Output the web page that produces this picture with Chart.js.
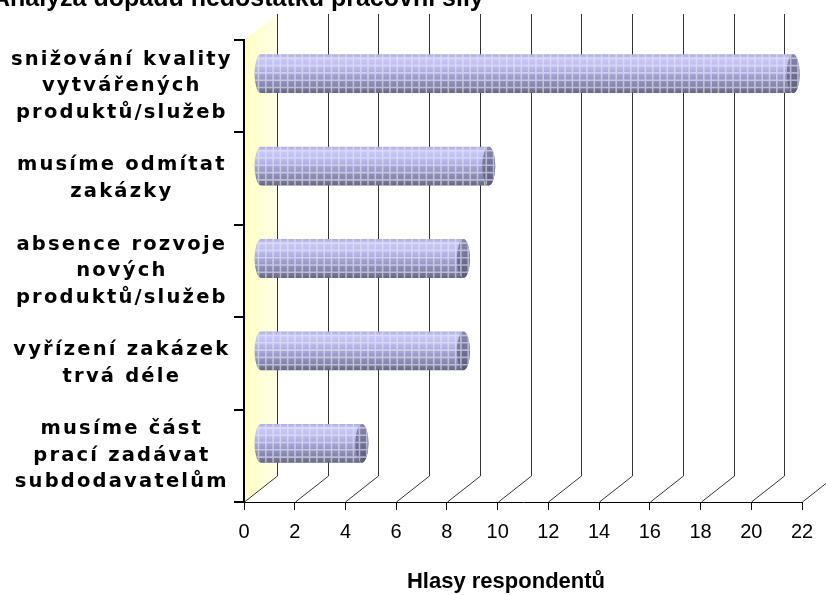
<!DOCTYPE html>
<html lang="cs">
<head>
  <meta charset="UTF-8" />
  <title>Analýza dopadů nedostatku pracovní síly</title>
  <script src="https://cdn.jsdelivr.net/npm/chart.js"></script>
  <style>
    html, body { margin: 0; padding: 0; background: #fff; }
    canvas { display: block; }
  </style>
</head>
<body>
  <canvas id="graf" width="826" height="595"></canvas>

  <script>
    const kategorie = [
      ['snižování kvality', 'vytvářených', 'produktů/služeb'],
      ['musíme odmítat', 'zakázky'],
      ['absence rozvoje', 'nových', 'produktů/služeb'],
      ['vyřízení zakázek', 'trvá déle'],
      ['musíme část', 'prací zadávat', 'subdodavatelům']
    ];
    const hlasy = [21, 9, 8, 8, 4];
    const osaMin = 0, osaMax = 22, osaKrok = 2;
    const nadpis = 'Analýza dopadů nedostatku pracovní síly';
    const popisOsyX = 'Hlasy respondentů';

    // posun zadni steny a roviny sloupcu (falesne 3D jako v Excelu)
    const HX = 33, HY = -26;
    const SX = 16.5, SY = -12.5;

    function valec(ctx, x0, x1, yc, h) {
      const rx = 6.5, ry = h / 2, top = yc - ry, bot = yc + ry;

      ctx.save();
      ctx.beginPath();
      ctx.ellipse(x0, yc, rx, ry, 0, Math.PI / 2, Math.PI * 1.5);
      ctx.lineTo(x1, top);
      ctx.ellipse(x1, yc, rx, ry, 0, -Math.PI / 2, Math.PI / 2);
      ctx.closePath();
      const g = ctx.createLinearGradient(0, top, 0, bot);
      g.addColorStop(0, '#aeaede');
      g.addColorStop(0.12, '#c8c8fa');
      g.addColorStop(0.32, '#bcbcf0');
      g.addColorStop(0.58, '#9e9ed0');
      g.addColorStop(0.82, '#8484ac');
      g.addColorStop(1, '#666682');
      ctx.fillStyle = g;
      ctx.fill();
      ctx.clip();
      mrizka(ctx, x0 - rx, x1 + rx, top, bot);
      ctx.restore();

      // celo valce
      ctx.save();
      ctx.beginPath();
      ctx.ellipse(x1, yc, rx, ry, 0, 0, Math.PI * 2);
      const gc = ctx.createLinearGradient(0, top, 0, bot);
      gc.addColorStop(0, '#8888b2');
      gc.addColorStop(0.5, '#707098');
      gc.addColorStop(1, '#5a5a78');
      ctx.fillStyle = gc;
      ctx.fill();
      ctx.clip();
      mrizka(ctx, x1 - rx, x1 + rx, top, bot);
      ctx.restore();
    }

    function mrizka(ctx, l, r, t, b) {
      ctx.strokeStyle = 'rgba(232,232,244,0.6)';
      ctx.lineWidth = 1.6;
      ctx.beginPath();
      for (let x = l + 4; x < r; x += 7.3) {
        ctx.moveTo(x, t); ctx.lineTo(x, b);
      }
      for (let y = t + 4; y < b; y += 7.3) {
        ctx.moveTo(l, y); ctx.lineTo(r, y);
      }
      ctx.stroke();
    }

    const prostor3d = {
      id: 'prostor3d',
      beforeDraw(chart) {
        const { ctx, chartArea: a } = chart;
        const x = chart.scales.x;
        ctx.save();
        const g = ctx.createLinearGradient(a.left, 0, a.left + HX, 0);
        g.addColorStop(0, '#ffffc2');
        g.addColorStop(1, '#ffffe8');
        ctx.fillStyle = g;
        ctx.beginPath();
        ctx.moveTo(a.left, a.top);
        ctx.lineTo(a.left + HX, a.top + HY);
        ctx.lineTo(a.left + HX, a.bottom + HY);
        ctx.lineTo(a.left, a.bottom);
        ctx.closePath();
        ctx.fill();

        ctx.strokeStyle = '#333';
        ctx.lineWidth = 1;
        for (let v = osaMin; v <= osaMax; v += osaKrok) {
          const px = Math.round(x.getPixelForValue(v)) + 0.5;
          ctx.beginPath();
          ctx.moveTo(px + HX, a.top + HY);
          ctx.lineTo(px + HX, a.bottom + HY);
          ctx.lineTo(px, a.bottom);
          ctx.stroke();
        }
        ctx.restore();
      },
      afterDatasetsDraw(chart) {
        const ctx = chart.ctx;
        chart.getDatasetMeta(0).data.forEach(el => {
          const p = el.getProps(['x', 'y', 'base', 'height'], true);
          valec(ctx, p.base + SX, p.x + SX, p.y + SY, p.height);
        });
        // popisky kategorii (kresli se az po sloupcich) jsou v originale prostrkane
        ctx.letterSpacing = '2.2px';
      },
      afterDraw(chart) {
        const ctx = chart.ctx;
        ctx.save();
        ctx.letterSpacing = '0px';
        ctx.fillStyle = '#000';
        ctx.textBaseline = 'alphabetic';
        ctx.font = 'bold 25px "Liberation Sans", Arial, sans-serif';
        ctx.textAlign = 'left';
        ctx.fillText(nadpis, -8, 6);
        ctx.font = 'bold 22px "Liberation Sans", Arial, sans-serif';
        ctx.textAlign = 'center';
        ctx.fillText(popisOsyX, 506, 588);
        ctx.restore();
        ctx.letterSpacing = '0px';
      }
    };

    Chart.defaults.font.family = '"Liberation Sans", Arial, sans-serif';
    Chart.defaults.color = '#000';

    new Chart(document.getElementById('graf'), {
      type: 'bar',
      data: {
        labels: kategorie,
        datasets: [{
          data: hlasy,
          backgroundColor: 'rgba(0,0,0,0)',
          borderWidth: 0,
          categoryPercentage: 1,
          barPercentage: 0.42
        }]
      },
      options: {
        indexAxis: 'y',
        responsive: false,
        animation: false,
        layout: { padding: { top: 40, right: 24, left: 0, bottom: 0 } },
        plugins: {
          legend: { display: false },
          title: { display: false },
          tooltip: { enabled: false }
        },
        scales: {
          x: {
            min: osaMin,
            max: osaMax,
            afterFit(s) { s.height = 93; s.paddingLeft = 0; s.paddingRight = 0; },
            grid: { drawOnChartArea: false, drawTicks: true, tickLength: 8, color: '#000', lineWidth: 1 },
            border: { display: true, color: '#000', width: 1 },
            ticks: {
              stepSize: osaKrok,
              padding: 10,
              font: { size: 20 },
              color: '#000'
            }
          },
          y: {
            afterFit(s) { s.width = 244; s.paddingTop = 0; s.paddingBottom = 0; },
            grid: { drawOnChartArea: false, drawTicks: true, tickLength: 10, color: '#000', lineWidth: 2 },
            border: { display: true, color: '#000', width: 2 },
            ticks: {
              z: 1,
              crossAlign: 'center',
              padding: 20,
              autoSkip: false,
              color: '#000',
              font: { family: '"DejaVu Sans", Verdana, sans-serif', weight: 'bold', size: 19.5, lineHeight: 1.36 }
            }
          }
        }
      },
      plugins: [prostor3d]
    });
  </script>
</body>
</html>
